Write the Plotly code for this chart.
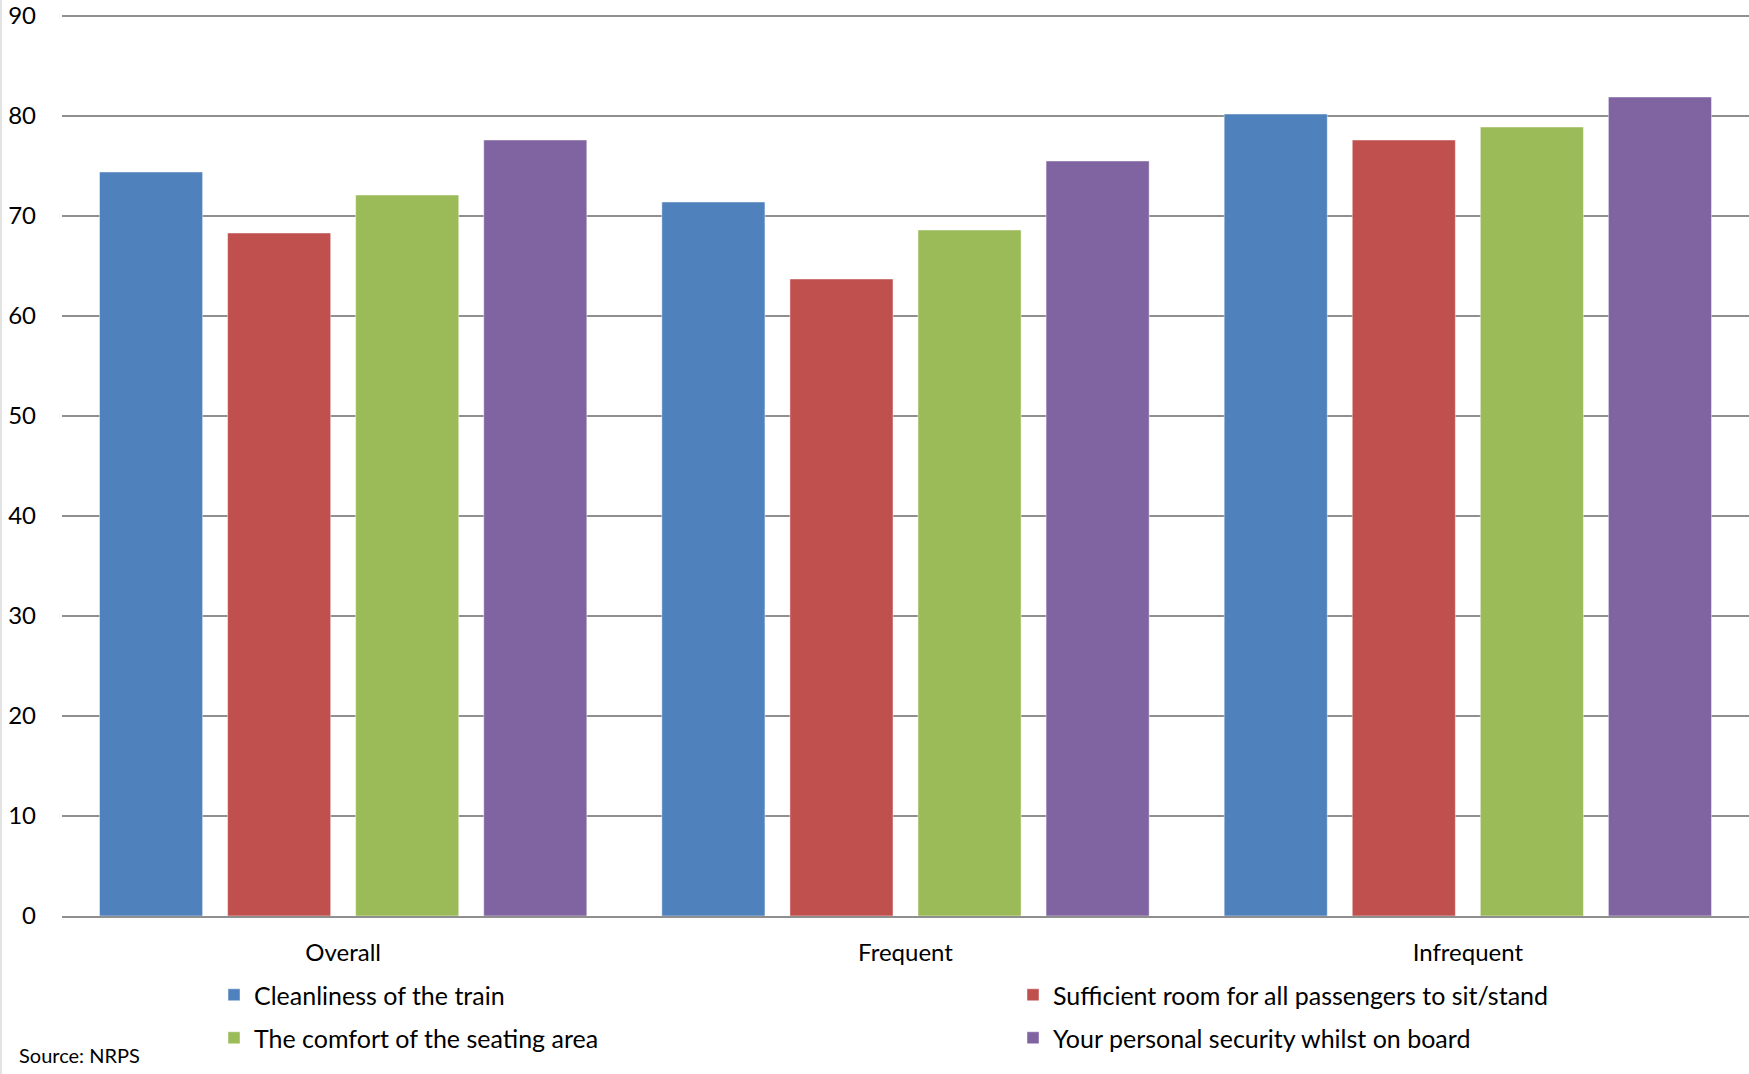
import plotly.graph_objects as go

categories = ["Overall", "Frequent", "Infrequent"]
series_names = [
    "Cleanliness of the train",
    "Sufficient room for all passengers to sit/stand",
    "The comfort of the seating area",
    "Your personal security whilst on board",
]
cleanliness = [74.4, 71.4, 80.2]
room = [68.3, 63.7, 77.6]
comfort = [72.1, 68.6, 78.9]
security = [77.6, 75.5, 81.9]
y_ticks = [0, 10, 20, 30, 40, 50, 60, 70, 80, 90]

colors = ["#4F81BD", "#C0504D", "#9BBB59", "#8064A2"]
values = [cleanliness, room, comfort, security]
legend_ids = ["legend", "legend2", "legend3", "legend4"]

FONT = "Lato"
W, H = 1749, 1074
L, R, T, B = 62, 0, 14, 158
PW, PH = W - L - R, H - T - B

fig = go.Figure()
for name, vals, col, lg in zip(series_names, values, colors, legend_ids):
    fig.add_trace(go.Bar(
        x=categories, y=vals, name=name, legend=lg,
        marker=dict(color=col, line=dict(color="rgba(255,255,255,0.45)", width=1)),
    ))


def px_x(px):
    return (px - L) / PW


def px_y(py):
    return (H - B - py) / PH


def legend_at(px, py):
    return dict(
        x=px_x(px), y=px_y(py), xanchor="left", yanchor="middle",
        orientation="h",
        font=dict(family=FONT, size=25, color="#000000"),
        bgcolor="rgba(0,0,0,0)", borderwidth=0,
    )


fig.update_layout(
    width=W, height=H,
    margin=dict(l=L, r=R, t=T, b=B, autoexpand=False),
    paper_bgcolor="white", plot_bgcolor="white",
    barmode="group", bargap=0.089, bargroupgap=0.195,
    font=dict(family=FONT, size=24, color="#000000"),
    showlegend=True,
    legend=legend_at(214, 995),
    legend2=legend_at(1013, 995),
    legend3=legend_at(214, 1038),
    legend4=legend_at(1013, 1038),
    xaxis=dict(
        showgrid=False, showline=True, linecolor="#8f8f8f", linewidth=2,
        ticks="", ticklabelstandoff=14, automargin=False,
        tickfont=dict(family=FONT, size=24, color="#000000"),
    ),
    yaxis=dict(
        range=[0, 90.2], tickvals=y_ticks, showgrid=True, gridcolor="#8f8f8f",
        gridwidth=2, zeroline=False, showline=False, ticks="",
        ticklabelstandoff=25, automargin=False,
        tickfont=dict(family=FONT, size=24, color="#000000"),
    ),
    annotations=[dict(
        text="Source: NRPS", xref="paper", yref="paper",
        x=px_x(17), y=px_y(1055), xanchor="left", yanchor="middle",
        showarrow=False, font=dict(family=FONT, size=20, color="#000000"),
    )],
    shapes=[dict(
        type="line", xref="paper", yref="paper",
        x0=px_x(1), x1=px_x(1), y0=px_y(0), y1=px_y(H),
        line=dict(color="#e3e3e3", width=2),
    )],
)

fig.write_html(
    "out.html",
    config={"displayModeBar": False},
    post_script="document.body.style.margin='0';document.body.style.padding='0';",
)
